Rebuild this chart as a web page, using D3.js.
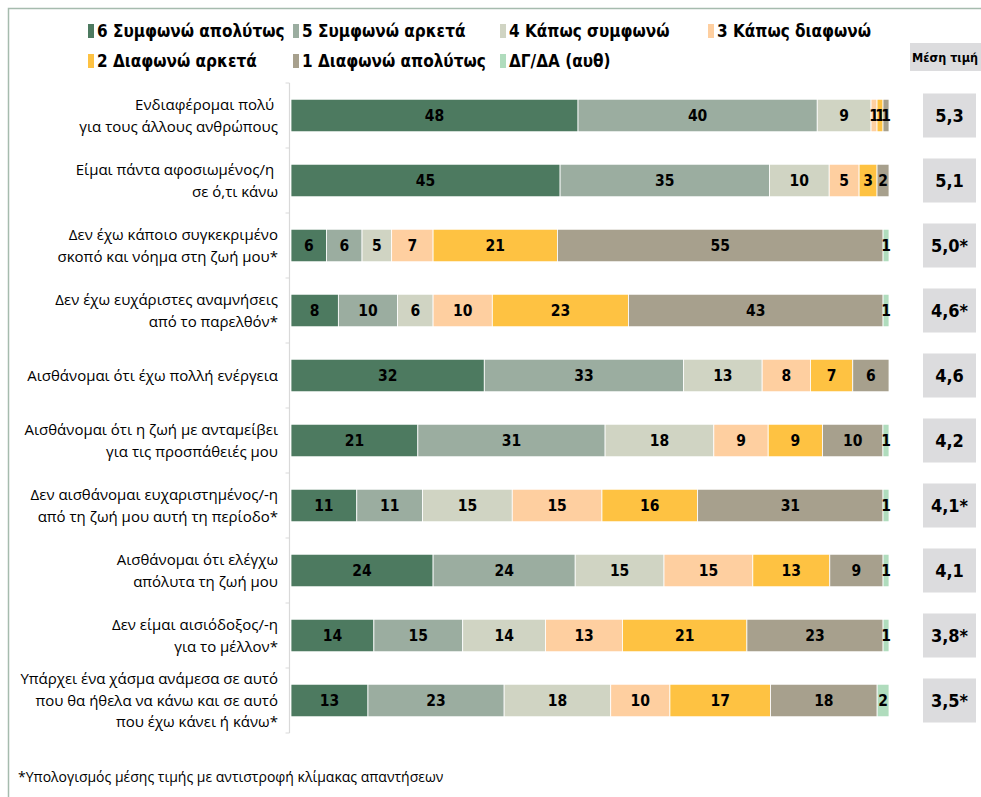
<!DOCTYPE html>
<html>
<head>
<meta charset="utf-8">
<script src="https://cdn.jsdelivr.net/npm/d3@7"></script>
<style>
  body { margin: 0; background: #fff; }
  svg { display: block; }
</style>
</head>
<body>
<svg id="chart" width="981" height="797"></svg>
<script>
//statements (rows, top to bottom), lines split with \n
const statements = [
	'Ενδιαφέρομαι πολύ \nγια τους άλλους ανθρώπους',
	'Είμαι πάντα αφοσιωμένος/η \nσε ό,τι κάνω',
	'Δεν έχω κάποιο συγκεκριμένο\nσκοπό και νόημα στη ζωή μου*',
	'Δεν έχω ευχάριστες αναμνήσεις\nαπό το παρελθόν*',
	'Αισθάνομαι ότι έχω πολλή ενέργεια',
	'Αισθάνομαι ότι η ζωή με ανταμείβει\nγια τις προσπάθειές μου',
	'Δεν αισθάνομαι ευχαριστημένος/-η\nαπό τη ζωή μου αυτή τη περίοδο*',
	'Αισθάνομαι ότι ελέγχω\nαπόλυτα τη ζωή μου',
	'Δεν είμαι αισιόδοξος/-η\nγια το μέλλον*',
	'Υπάρχει ένα χάσμα ανάμεσα σε αυτό\nπου θα ήθελα να κάνω και σε αυτό\nπου έχω κάνει ή κάνω*'
];

//answer categories (stack order, left to right)
const answers = [
	'6 Συμφωνώ απολύτως',
	'5 Συμφωνώ αρκετά',
	'4 Κάπως συμφωνώ',
	'3 Κάπως διαφωνώ',
	'2 Διαφωνώ αρκετά',
	'1 Διαφωνώ απολύτως',
	'ΔΓ/ΔΑ (αυθ)'
];
const answerColors = [ '#4d7a60', '#9badA0', '#d0d4c3', '#fecfa0', '#fec242', '#a7a08d', '#b0dcbd' ];

//percentages per statement, one array per answer category
const agreeFully = [ 48, 45, 6, 8, 32, 21, 11, 24, 14, 13 ];
const agreeQuite = [ 40, 35, 6, 10, 33, 31, 11, 24, 15, 23 ];
const agreeSomewhat = [ 9, 10, 5, 6, 13, 18, 15, 15, 14, 18 ];
const disagreeSomewhat = [ 1, 5, 7, 10, 8, 9, 15, 15, 13, 10 ];
const disagreeQuite = [ 1, 3, 21, 23, 7, 9, 16, 13, 21, 17 ];
const disagreeFully = [ 1, 2, 55, 43, 6, 10, 31, 9, 23, 18 ];
const dontKnow = [ 0, 0, 1, 1, 0, 1, 1, 1, 1, 2 ];

//mean value per statement
const means = [ '5,3', '5,1', '5,0*', '4,6*', '4,6', '4,2', '4,1*', '4,1', '3,8*', '3,5*' ];

const meanTitle = 'Μέση τιμή';
const footnote = '*Υπολογισμός μέσης τιμής με αντιστροφή κλίμακας απαντήσεων';

const series = [ agreeFully, agreeQuite, agreeSomewhat, disagreeSomewhat, disagreeQuite, disagreeFully, dontKnow ];

//table for d3.stack
const table = statements.map((s, i) => {
	const row = { statement: s };
	answers.forEach((a, j) => (row[a] = series[j][i]));
	return row;
});

const svg = d3.select('#chart');
const labelFont = "'Open Sans', 'Noto Sans', sans-serif";
const narrowFont = "'Liberation Sans Narrow', 'DejaVu Sans Condensed', sans-serif";

//frame
svg.append('path')
	.attr('d', 'M8.5,797 V8.5 H981')
	.attr('fill', 'none')
	.attr('stroke', '#a6bbae')
	.attr('stroke-width', 1.5);

const x = d3.scaleLinear().domain([ 0, 1 ]).range([ 291, 889 ]);

const y = d3
	.scaleBand()
	.domain(statements)
	.range([ 83, 733 ])
	.paddingInner(0.5)
	.paddingOuter(0.25);

const stacked = d3.stack().keys(answers).offset(d3.stackOffsetExpand)(table);

//y axis line with ticks between categories
const axis = svg.append('g').attr('transform', 'translate(289.5,0)');
axis.append('line')
	.attr('y1', 83)
	.attr('y2', 733)
	.attr('stroke', '#d9d9d9')
	.attr('stroke-width', 1.2);
const gap = (y.step() - y.bandwidth()) / 2;
axis.selectAll('.tick')
	.data(statements.concat([ null ]))
	.enter()
	.append('line')
	.attr('x1', -4)
	.attr('x2', 0)
	.attr('y1', (d) => (d === null ? 733 : y(d) - gap))
	.attr('y2', (d) => (d === null ? 733 : y(d) - gap))
	.attr('stroke', '#d9d9d9');

//bars
const layers = svg.selectAll('.layer')
	.data(stacked)
	.enter()
	.append('g')
	.attr('class', 'layer')
	.attr('fill', (d, i) => answerColors[i]);

layers.selectAll('rect')
	.data((d) => d)
	.enter()
	.append('rect')
	.attr('x', (d) => x(d[0]))
	.attr('y', (d) => y(d.data.statement))
	.attr('width', (d) => x(d[1]) - x(d[0]))
	.attr('height', y.bandwidth())
	.attr('stroke', '#fff')
	.attr('stroke-width', 0.8);

//value labels
layers.selectAll('text')
	.data((d) => d.map((p) => ({ p: p, v: p.data[d.key] })))
	.enter()
	.filter((d) => d.v > 0)
	.append('text')
	.attr('x', (d) => (x(d.p[0]) + x(d.p[1])) / 2)
	.attr('y', (d) => y(d.p.data.statement) + y.bandwidth() / 2)
	.attr('dy', '0.36em')
	.attr('text-anchor', 'middle')
	.attr('fill', '#000')
	.style('font-family', narrowFont)
	.style('font-size', '15.5px')
	.style('font-weight', 'bold')
	.text((d) => d.v);

//category labels
const cat = svg.append('g')
	.selectAll('text')
	.data(statements)
	.enter()
	.append('text')
	.attr('text-anchor', 'end')
	.attr('xml:space', 'preserve')
	.style('font-family', labelFont)
	.style('font-size', '15px')
	.attr('fill', '#000');

cat.each(function(d) {
	const lines = d.split('\n');
	const mid = y(d) + y.bandwidth() / 2;
	const lh = 21.5;
	d3.select(this)
		.selectAll('tspan')
		.data(lines)
		.enter()
		.append('tspan')
		.attr('x', 278)
		.attr('y', (l, i) => mid + (i - (lines.length - 1) / 2) * lh)
		.attr('dy', '0.35em')
		.text((l) => l);
});

//mean value boxes
svg.append('rect')
	.attr('x', 910)
	.attr('y', 43)
	.attr('width', 71)
	.attr('height', 28)
	.attr('fill', '#dcdcde');
svg.append('text')
	.attr('x', 945)
	.attr('y', 57)
	.attr('dy', '0.36em')
	.attr('text-anchor', 'middle')
	.style('font-family', narrowFont)
	.style('font-size', '12.5px')
	.style('font-weight', 'bold')
	.text(meanTitle);

const meanG = svg.append('g')
	.selectAll('g')
	.data(statements)
	.enter()
	.append('g')
	.attr('transform', (d) => `translate(923, ${y(d) + y.bandwidth() / 2})`);
meanG.append('rect')
	.attr('y', -22)
	.attr('width', 53)
	.attr('height', 44)
	.attr('fill', '#dcdcde');
meanG.append('text')
	.attr('x', 26.5)
	.attr('dy', '0.36em')
	.attr('text-anchor', 'middle')
	.style('font-family', narrowFont)
	.style('font-size', '18px')
	.style('font-weight', 'bold')
	.text((d, i) => means[i]);

//legend, 4 columns
const legendCols = [ 88, 293, 500, 708 ];
const legend = svg.append('g')
	.selectAll('g')
	.data(answers)
	.enter()
	.append('g')
	.attr('transform', (d, i) => `translate(${legendCols[i % 4]}, ${i < 4 ? 31 : 61})`);
legend.append('rect')
	.attr('y', -7)
	.attr('width', 6)
	.attr('height', 14)
	.attr('fill', (d, i) => answerColors[i]);
legend.append('text')
	.attr('x', 9)
	.attr('dy', '0.36em')
	.style('font-family', narrowFont)
	.style('font-size', '17px')
	.style('font-weight', 'bold')
	.text((d) => d);

//footnote
svg.append('text')
	.attr('x', 18)
	.attr('y', 777)
	.attr('dy', '0.35em')
	.style('font-family', labelFont)
	.style('font-size', '14px')
	.text(footnote);
</script>
</body>
</html>
